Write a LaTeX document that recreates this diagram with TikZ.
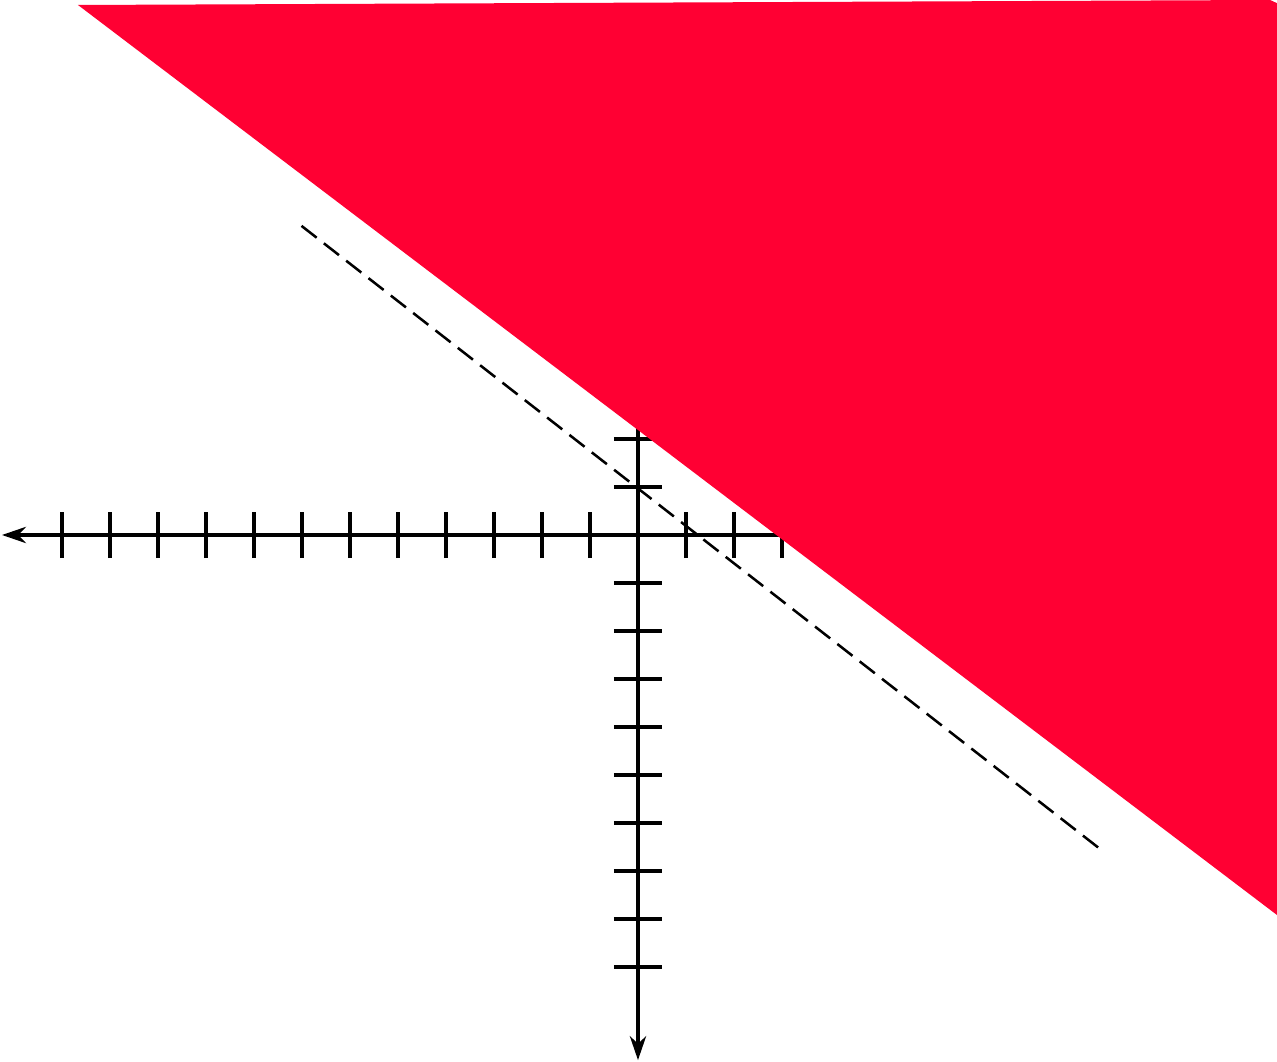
\documentclass[tikz,border=0pt]{standalone}
\usetikzlibrary{arrows.meta}
\definecolor{regionred}{RGB}{255,0,51}
\begin{document}
\begin{tikzpicture}[x=1cm,y=1cm,
    axis/.style={line width=1.8pt,-{Stealth[length=0.5cm,width=0.34cm,inset=0.16cm]}},
    tickmark/.style={line width=1.8pt},
    boundary/.style={line width=1.5pt,dash pattern=on 0.4cm off 0.19cm}]
    \useasboundingbox (-13.292,-10.979) rectangle (13.313,11.146);
    % axes
    \draw[axis] (0,0) -- (-13.25,0);
    \draw[tickmark] (0,0) -- (13.3,0);
    \draw[axis] (0,0) -- (0,-10.94);
    \draw[tickmark] (0,0) -- (0,11);
    \foreach \x in {-12,...,-1,1,2,...,12} {
        \draw[tickmark] (\x,-0.48) -- (\x,0.48);
    }
    \foreach \y in {-9,...,-1,1,2,...,10} {
        \draw[tickmark] (-0.5,\y) -- (0.5,\y);
    }
    % boundary line
    \draw[boundary] (-7.01,6.44) -- (9.625,-6.54);
    % shaded region
    \fill[regionred] (-11.667,11.042) -- (13.17,11.146) -- (13.313,11.08) -- (13.313,-7.917) -- cycle;
\end{tikzpicture}
\end{document}
